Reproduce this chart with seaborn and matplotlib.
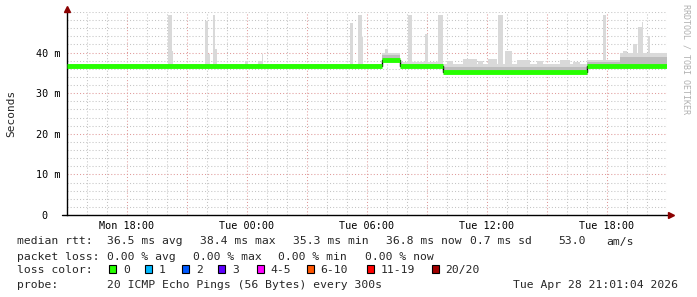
import numpy as np
import pandas as pd
import matplotlib
matplotlib.use("Agg")
import matplotlib.pyplot as plt
import matplotlib.dates as mdates
import matplotlib.ticker as mticker
from matplotlib.patches import Rectangle
from matplotlib.lines import Line2D
import seaborn as sns

# ---------------- data ----------------
start_time = "2026-04-27 15:01"
end_time = "2026-04-28 21:01"

# median RTT (ms) as a step series
median_times = ["2026-04-27 15:01", "2026-04-28 06:45", "2026-04-28 07:40",
                "2026-04-28 09:50", "2026-04-28 17:00"]
median_ms = [36.7, 38.3, 36.8, 35.3, 36.8]

# background smoke envelope (ms)
smoke_times = ["2026-04-27 15:01", "2026-04-28 06:45", "2026-04-28 07:40",
               "2026-04-28 09:50", "2026-04-28 17:00", "2026-04-28 18:40"]
smoke_outer_ms = [37.3, 40.0, 37.8, 37.3, 38.3, 40.0]
smoke_inner_ms = [37.0, 39.3, 37.3, 36.5, 37.6, 38.8]

# isolated smoke spikes (max ping of an interval)
spike_start = ["2026-04-27 20:05", "2026-04-27 20:15", "2026-04-27 21:55", "2026-04-27 22:05",
               "2026-04-27 22:20", "2026-04-27 22:25", "2026-04-27 23:55", "2026-04-28 00:35",
               "2026-04-28 00:45", "2026-04-28 05:10", "2026-04-28 05:35", "2026-04-28 05:45",
               "2026-04-28 06:55", "2026-04-28 08:05", "2026-04-28 08:55", "2026-04-28 09:35",
               "2026-04-28 10:00", "2026-04-28 10:50", "2026-04-28 11:35", "2026-04-28 12:05",
               "2026-04-28 12:35", "2026-04-28 12:55", "2026-04-28 13:30", "2026-04-28 14:30",
               "2026-04-28 15:40", "2026-04-28 16:20", "2026-04-28 17:50", "2026-04-28 18:50",
               "2026-04-28 19:20", "2026-04-28 19:35", "2026-04-28 19:45", "2026-04-28 20:05"]
spike_end = ["2026-04-27 20:15", "2026-04-27 20:20", "2026-04-27 22:05", "2026-04-27 22:10",
             "2026-04-27 22:25", "2026-04-27 22:30", "2026-04-28 00:05", "2026-04-28 00:45",
             "2026-04-28 00:50", "2026-04-28 05:20", "2026-04-28 05:45", "2026-04-28 05:50",
             "2026-04-28 07:05", "2026-04-28 08:15", "2026-04-28 09:05", "2026-04-28 09:50",
             "2026-04-28 10:20", "2026-04-28 11:30", "2026-04-28 11:50", "2026-04-28 12:30",
             "2026-04-28 12:50", "2026-04-28 13:15", "2026-04-28 14:10", "2026-04-28 14:50",
             "2026-04-28 16:10", "2026-04-28 16:40", "2026-04-28 17:58", "2026-04-28 19:00",
             "2026-04-28 19:30", "2026-04-28 19:45", "2026-04-28 19:50", "2026-04-28 20:10"]
spike_top = [49.2, 40.3, 47.9, 39.7, 49.2, 41.0, 38.0, 38.0,
             39.6, 47.4, 49.2, 43.8, 41.0, 49.2, 44.5, 49.2,
             37.9, 38.5, 37.9, 38.5, 49.2, 40.3, 38.1, 37.9,
             38.1, 37.7, 49.2, 40.5, 42.2, 46.3, 47.5, 44.2]

y_tick_values = [0, 10, 20, 30, 40]
y_tick_labels = ["0  ", "10 m", "20 m", "30 m", "40 m"]

legend_rows = [
    [("median rtt:", 16.7), ("36.5 ms avg", 106.7), ("38.4 ms max", 200.0),
     ("35.3 ms min", 293.3), ("36.8 ms now", 386.0), ("0.7 ms sd", 470.0),
     ("53.0", 558.3), ("am/s", 606.7)],
    [("packet loss:", 16.7), ("0.00 % avg", 106.7), ("0.00 % max", 193.3),
     ("0.00 % min", 278.3), ("0.00 % now", 365.0)],
    [("loss color:", 16.7)],
    [("probe:", 16.7), ("20 ICMP Echo Pings (56 Bytes) every 300s", 106.7),
     ("Tue Apr 28 21:01:04 2026", 513.3)],
]
loss_labels = ["0", "1", "2", "3", "4-5", "6-10", "11-19", "20/20"]
loss_colors = ["#26ff00", "#00b8ff", "#0059ff", "#5e00ff", "#ff00ff", "#ff5500", "#ff0000", "#a10000"]
loss_square_x = [109, 145, 181.7, 218.3, 256.7, 306.7, 366.7, 431.5]

# ---------------- drawing ----------------
sns.set_style("white")
plt.rcParams["font.family"] = ["DejaVu Sans Mono"]

W, H = 697, 297
fig = plt.figure(figsize=(W / 100, H / 100), dpi=100)
ax = fig.add_axes([67 / W, (H - 215) / H, 600 / W, 203 / H])

t0 = mdates.date2num(pd.Timestamp(start_time))
t1 = mdates.date2num(pd.Timestamp(end_time))

med_t = mdates.date2num(pd.to_datetime(median_times))
med_t_ext = np.append(med_t, t1)
med_v_ext = np.append(median_ms, median_ms[-1])

sm_t = np.append(mdates.date2num(pd.to_datetime(smoke_times)), t1)
sm_out = np.append(smoke_outer_ms, smoke_outer_ms[-1])
sm_in = np.append(smoke_inner_ms, smoke_inner_ms[-1])
sm_base = np.array([med_v_ext[np.searchsorted(med_t_ext, x, side="right") - 1] for x in sm_t]) - 0.3

# background smoke
ax.fill_between(sm_t, sm_base, sm_out, step="post", color="#dadada", lw=0, zorder=2)
ax.fill_between(sm_t, sm_base, sm_in, step="post", color="#bdbdbd", lw=0, zorder=2.1)

# spikes
sp_s = mdates.date2num(pd.to_datetime(spike_start))
sp_e = mdates.date2num(pd.to_datetime(spike_end))
sp_bottom = np.array([med_v_ext[np.searchsorted(med_t_ext, x, side="right") - 1] for x in sp_s])
ax.bar(sp_s, np.array(spike_top) - sp_bottom, width=sp_e - sp_s, bottom=sp_bottom,
       align="edge", color="#d9d9d9", lw=0, zorder=2.05)

# median: thin black step line and thick green segments
med_df = pd.DataFrame({"t": pd.to_datetime(list(median_times) + [end_time]),
                       "ms": list(median_ms) + [median_ms[-1]]})
sns.lineplot(data=med_df, x="t", y="ms", drawstyle="steps-post", color="black",
             lw=1.0, ax=ax, zorder=3, estimator=None)
ax.hlines(median_ms, med_t, np.append(med_t[1:], t1), color=loss_colors[0], lw=3.5, zorder=4)

ax.set_xlim(t0, t1)
ax.set_ylim(0, 50)
ax.set_xlabel("")
ax.set_ylabel("")

# grid
ax.xaxis.set_major_locator(mdates.HourLocator(byhour=range(0, 24, 3)))
ax.xaxis.set_minor_locator(mdates.HourLocator())
ax.xaxis.set_major_formatter(mticker.FuncFormatter(
    lambda v, p: mdates.num2date(v).strftime("%a %H:%M") if mdates.num2date(v).hour % 6 == 0 else ""))
ax.yaxis.set_major_locator(mticker.FixedLocator(y_tick_values))
ax.yaxis.set_major_formatter(mticker.FixedFormatter(y_tick_labels))
ax.yaxis.set_minor_locator(mticker.MultipleLocator(2))

ax.grid(which="minor", color="#c4c4c4", ls=(0, (1, 2)), lw=0.75, zorder=0)
ax.grid(which="major", color="#e09a9a", ls=(0, (1, 2)), lw=0.75, zorder=0.5)
ax.set_axisbelow(True)

ax.tick_params(axis="both", which="both", length=0, labelsize=7.3, colors="black")
ax.tick_params(axis="y", pad=5)
ax.tick_params(axis="x", pad=4.5)

for s in ["top", "right", "bottom"]:
    ax.spines[s].set_visible(False)
ax.spines["left"].set_color("black")
ax.spines["left"].set_linewidth(1.0)

# axis lines with arrows
ax.add_line(Line2D([-5 / 600, 1.004], [0, 0], transform=ax.transAxes, color="black",
                   lw=1.0, clip_on=False, zorder=5))
ax.add_line(Line2D([0, 0], [1.0, 1.01], transform=ax.transAxes, color="black",
                   lw=1.0, clip_on=False, zorder=5))
ax.plot([0], [1.013], transform=ax.transAxes, marker="^", ms=4, color="#8b0000",
        clip_on=False, zorder=6)
ax.plot([1.006], [0], transform=ax.transAxes, marker=">", ms=4, color="#8b0000",
        clip_on=False, zorder=6)

# y label and watermark
fig.text(11 / W, 1 - 113 / H, "Seconds", rotation=90, ha="center", va="center", fontsize=8)
fig.text(686 / W, 1 - 4 / H, "RRDTOOL / TOBI OETIKER", rotation=270, ha="center", va="top",
         fontsize=6, color="#b0b0b0")

# legend block
row_y = [240.5, 255.5, 269.3, 283.7]
for row, yy in zip(legend_rows, row_y):
    for txt, xx in row:
        fig.text(xx / W, 1 - yy / H, txt, ha="left", va="center_baseline", fontsize=8.2)

for lab, col, xs in zip(loss_labels, loss_colors, loss_square_x):
    fig.patches.append(Rectangle((xs / W, 1 - 272.5 / H), 7 / W, 8 / H, transform=fig.transFigure,
                                 facecolor=col, edgecolor="black", lw=0.8))
    fig.text((xs + 14) / W, 1 - row_y[2] / H, lab, ha="left", va="center_baseline", fontsize=8.2)

fig.savefig("out.png", dpi=100)
